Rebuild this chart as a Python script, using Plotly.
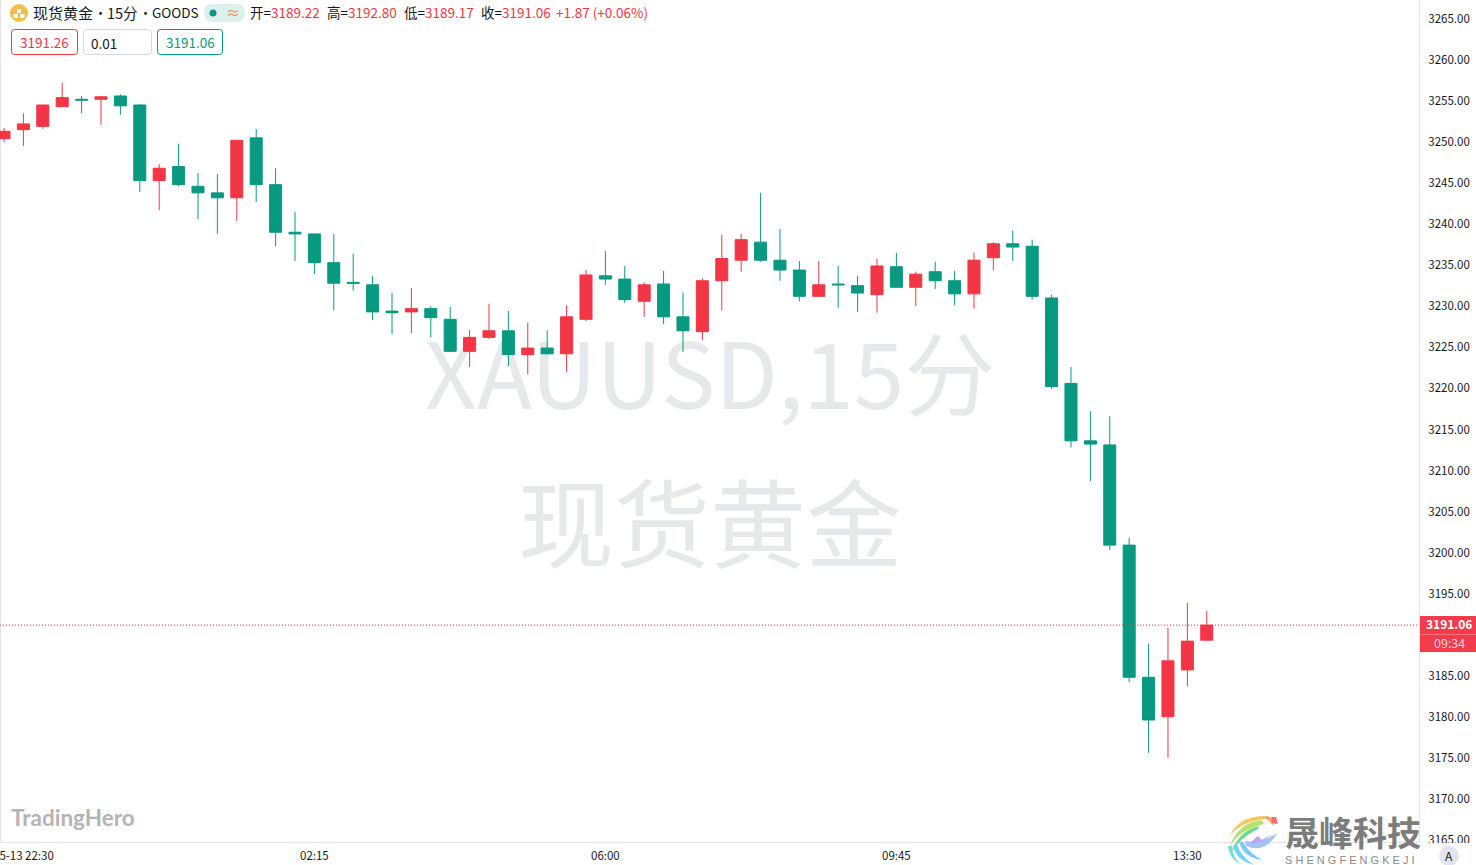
import plotly.graph_objects as go

open_ = [3250.3,3251.4,3251.8,3254.2,3255.1,3255.1,3255.5,3254.4,3245.2,3246.9,3244.5,3243.7,3243.1,3250.4,3244.7,3238.9,
         3238.7,3235.2,3232.8,3232.5,3229.3,3229.2,3229.6,3228.3,3224.4,3226.1,3226.9,3224.0,3224.8,3224.1,3228.3,3233.6,
         3233.2,3230.5,3232.6,3228.6,3226.8,3233.0,3235.5,3237.7,3235.5,3234.3,3231.1,3232.6,3232.4,3231.3,3234.7,3232.2,
         3234.1,3233.0,3231.4,3235.8,3237.5,3237.2,3230.9,3220.5,3213.5,3213.0,3200.8,3184.7,3179.9,3185.6,3189.22]
high = [3251.6,3253.4,3254.4,3257.1,3255.5,3255.5,3255.7,3254.5,3247.2,3249.7,3246.1,3246.0,3250.1,3251.5,3246.7,3241.4,
        3238.7,3238.7,3236.3,3233.6,3231.5,3232.1,3229.9,3229.8,3227.0,3230.2,3229.3,3227.9,3227.0,3230.0,3234.3,3236.6,
        3234.8,3232.8,3234.2,3231.6,3233.3,3238.6,3238.7,3243.7,3239.3,3235.4,3235.4,3234.8,3233.6,3235.7,3236.4,3234.1,
        3235.3,3234.2,3236.4,3237.7,3239.1,3238.0,3231.3,3222.5,3217.1,3216.5,3201.7,3188.8,3190.7,3193.8,3192.80]
low = [3249.9,3249.4,3251.5,3254.2,3253.4,3252.0,3253.2,3243.8,3241.6,3244.5,3240.5,3238.7,3240.3,3242.6,3237.2,3235.4,
       3233.8,3229.4,3231.8,3228.2,3226.5,3226.6,3226.1,3224.3,3222.5,3225.9,3222.6,3221.6,3224.0,3221.9,3228.1,3232.5,
       3230.3,3228.6,3227.7,3224.3,3225.8,3229.4,3234.1,3235.3,3233.0,3230.5,3231.1,3229.7,3229.2,3229.1,3232.1,3229.9,
       3232.0,3230.0,3229.6,3234.3,3235.4,3230.7,3219.8,3212.7,3208.6,3200.2,3184.1,3175.5,3174.9,3183.6,3189.17]
close = [3251.2,3252.1,3254.4,3255.3,3255.0,3255.4,3254.3,3245.2,3246.7,3244.7,3243.7,3243.1,3250.1,3244.7,3238.9,3238.7,
         3235.2,3232.7,3232.7,3229.2,3229.1,3229.6,3228.5,3224.4,3226.1,3226.9,3224.0,3224.8,3224.1,3228.6,3233.7,3233.2,
         3230.7,3232.5,3228.6,3226.9,3233.0,3235.7,3238.0,3235.5,3234.3,3231.1,3232.5,3232.5,3231.5,3234.8,3232.2,3233.8,
         3233.0,3231.4,3235.5,3237.5,3237.1,3231.1,3220.1,3213.5,3213.1,3200.8,3184.7,3179.5,3186.7,3189.1,3191.06]
bar_index = list(range(len(open_)))
time_ticks = [1, 16, 31, 46, 61]
time_labels = ["05-13 22:30", "02:15", "06:00", "09:45", "13:30"]
price_ticks = [3165,3170,3175,3180,3185,3190,3195,3200,3205,3210,3215,3220,3225,3230,3235,3240,3245,3250,3255,3260,3265]
last_price = 3191.06

UP, DOWN, AXIS, TXT = "#F23645", "#089981", "#E0E3EB", "#131722"
FONT = "Noto Sans CJK SC, sans-serif"
W, H, PW, PH = 1476, 865, 1419, 842

def px(x): return x / PW
def py(y): return 1 - y / PH

fig = go.Figure(go.Candlestick(
    x=bar_index, open=open_, high=high, low=low, close=close, whiskerwidth=0,
    increasing=dict(line=dict(color=UP, width=1), fillcolor=UP),
    decreasing=dict(line=dict(color=DOWN, width=1), fillcolor=DOWN),
    showlegend=False, hoverinfo="skip"))

shapes, annos = [], []

def rect(x0, y0, x1, y1, fill="rgba(0,0,0,0)", line=None, lw=1, layer="above"):
    shapes.append(dict(type="rect", xref="paper", yref="paper", x0=px(x0), x1=px(x1), y0=py(y1), y1=py(y0),
                       fillcolor=fill, line=dict(color=line or "rgba(0,0,0,0)", width=lw if line else 0), layer=layer))

def circle(cx, cy, r, fill):
    shapes.append(dict(type="circle", xref="paper", yref="paper", x0=px(cx-r), x1=px(cx+r), y0=py(cy+r), y1=py(cy-r),
                       fillcolor=fill, line=dict(width=0), layer="above"))

def rpath(d_pts, fill):
    d = " ".join(f"{c}{px(x):.5f},{py(y):.5f}" if c in "ML" else f"Q{px(x):.5f},{py(y):.5f} {px(a):.5f},{py(b):.5f}"
                 for c, x, y, *rest in d_pts for a, b in [rest or (0, 0)]) + " Z"
    shapes.append(dict(type="path", xref="paper", yref="paper", path=d, fillcolor=fill, line=dict(width=0), layer="above"))

def text(x, y, s, color=TXT, size=13, anchor="left", family=FONT):
    annos.append(dict(xref="paper", yref="paper", x=px(x), y=py(y), text=s, showarrow=False, xanchor=anchor,
                      yanchor="middle", align=anchor, font=dict(color=color, size=size, family=family),
                      borderpad=0, borderwidth=0))

# frame
rect(0, 0, 1, 842, fill=AXIS, layer="below")
# clip of lowest price label below the time axis
rect(1420, 843, 1476, 865, fill="white")

# watermark, under the candles
shapes.append(dict(type="rect", xref="paper", yref="paper", x0=px(400), x1=px(1020), y0=py(426), y1=py(342),
                   line=dict(width=0), layer="below",
                   label=dict(text="XAUUSD,15分", textposition="middle center",
                              font=dict(size=91, color="#E7E8E9", family=FONT))))
shapes.append(dict(type="rect", xref="paper", yref="paper", x0=px(450), x1=px(970), y0=py(583), y1=py(483),
                   line=dict(width=0), layer="below",
                   label=dict(text="现货黄金", textposition="middle center",
                              font=dict(size=96, color="#E7E8E9", family=FONT))))

# last price line
shapes.append(dict(type="line", xref="paper", yref="y", x0=0, x1=1, y0=last_price, y1=last_price,
                   line=dict(color=UP, width=1, dash="1px 2px"), layer="above"))

# header
circle(19, 13, 9, "#F2BD4C")
rect(17, 9, 21, 13, fill="white"); rect(13.5, 14, 18, 18, fill="white"); rect(20, 14, 24.5, 18, fill="white")
text(33, 12, "现货黄金", size=15)
text(100, 12, "•", size=13, anchor="center")
text(107, 12, "15分", size=14.5)
text(145, 12, "•", size=13, anchor="center")
text(152, 12, "GOODS", size=13.5)
shapes.append(dict(type="path", xref="paper", yref="paper", layer="above", fillcolor="#DDF1EC", line=dict(width=0),
                   path=f"M{px(212):.5f},{py(4):.5f} L{px(236):.5f},{py(4):.5f} Q{px(245):.5f},{py(4):.5f} {px(245):.5f},{py(13):.5f} "
                        f"Q{px(245):.5f},{py(22):.5f} {px(236):.5f},{py(22):.5f} L{px(212):.5f},{py(22):.5f} "
                        f"Q{px(204):.5f},{py(22):.5f} {px(204):.5f},{py(13):.5f} Q{px(204):.5f},{py(4):.5f} {px(212):.5f},{py(4):.5f} Z"))
circle(213, 13, 3.5, DOWN)
text(233, 12, "≈", color="#F2845C", size=14, anchor="center")
for x, s, c in [(250, "开=", TXT), (271, "3189.22", UP), (327, "高=", TXT), (348, "3192.80", UP), (404, "低=", TXT),
                (425, "3189.17", UP), (481, "收=", TXT), (502, "3191.06", UP), (556, "+1.87 (+0.06%)", UP)]:
    text(x, 12.5, s, color=c, size=13.5)

# order boxes
def box(x0, x1, color):
    d = (f"M{px(x0+3):.5f},{py(29.5):.5f} L{px(x1-3):.5f},{py(29.5):.5f} Q{px(x1):.5f},{py(29.5):.5f} {px(x1):.5f},{py(32.5):.5f} "
         f"L{px(x1):.5f},{py(51.5):.5f} Q{px(x1):.5f},{py(54.5):.5f} {px(x1-3):.5f},{py(54.5):.5f} L{px(x0+3):.5f},{py(54.5):.5f} "
         f"Q{px(x0):.5f},{py(54.5):.5f} {px(x0):.5f},{py(51.5):.5f} L{px(x0):.5f},{py(32.5):.5f} Q{px(x0):.5f},{py(29.5):.5f} {px(x0+3):.5f},{py(29.5):.5f} Z")
    shapes.append(dict(type="path", xref="paper", yref="paper", path=d, layer="above", line=dict(color=color, width=1)))
box(11.5, 77.5, UP); box(83.5, 151.5, "#D5D8E2"); box(157.5, 222.5, DOWN)
text(44.5, 42, "3191.26", color=UP, size=13.5, anchor="center")
text(91, 43, "0.01", size=13.5)
text(190, 42, "3191.06", color=DOWN, size=13.5, anchor="center")

# price tag
rect(1420, 616, 1476, 652, fill="#F43A4D")
rect(1420, 634, 1476, 635, fill="#F7737F")
text(1449, 623.5, "<b>3191.06</b>", color="white", size=12, anchor="center")
text(1449, 642, "09:34", color="#FFD3D7", size=12.5, anchor="center")

# brand marks
text(11, 817, "<b>TradingHero</b>", color="#B4B4B4", size=22.5, family="Lato, Inter, sans-serif")
text(1285, 831.5, "<b>晟峰科技</b>", color="#7C7C7C", size=34, family="Noto Sans CJK SC")
text(1285, 860, "S H E N G F E N G K E J I", color="#8A8A8A", size=11, family="Liberation Sans")
for pts, col in [
    ([("M",1264,816),("Q",1236,816,1227,842),("Q",1233,824,1264,819)], "#F5C95C"),
    ([("M",1262,820),("Q",1238,822,1229,848),("Q",1238,830,1264,824)], "#B7DF72"),
    ([("M",1259,826),("Q",1240,830,1231,852),("Q",1240,838,1258,829)], "#6FD98F"),
    ([("M",1268,816),("Q",1274,820,1273,826),("Q",1270,820,1262,817)], "#F7A64F"),
    ([("M",1271,817),("L",1276,817),("L",1278,824),("L",1272,823)], "#F76B6B"),
    ([("M",1228,846),("Q",1229,858,1240,864),("Q",1232,856,1232,846)], "#6FE0D0"),
    ([("M",1233,846),("Q",1236,860,1254,865),("Q",1240,856,1237,844)], "#6FD4F5"),
    ([("M",1239,842),("Q",1244,858,1262,860),("Q",1248,852,1243,842)], "#7BC9F7"),
    ([("M",1245,841),("Q",1262,844,1277,833),("Q",1266,854,1246,846)], "#A3C2F5"),
    ([("M",1258,836),("L",1262,840),("L",1270,835),("Q",1262,845,1250,843)], "#B9A6F2"),
]:
    rpath(pts, col)
circle(1449, 856, 10, "#E3E5EE")
text(1449, 855, "A", size=12, anchor="center")

fig.update_layout(
    width=W, height=H, autosize=False, margin=dict(l=0, r=W-PW, t=0, b=H-PH),
    paper_bgcolor="white", plot_bgcolor="white", boxgap=0.38, boxgroupgap=0,
    shapes=shapes, annotations=annos, showlegend=False, hovermode=False,
    font=dict(family=FONT, size=12, color=TXT),
    xaxis=dict(range=[-0.206, 72.94], rangeslider=dict(visible=False), showgrid=False, zeroline=False,
               tickmode="array", tickvals=time_ticks, ticktext=time_labels, ticks="", tickangle=0,
               ticklabeloverflow="allow", automargin=False,
               showline=True, linecolor=AXIS, linewidth=1, ticklabelstandoff=3, tickfont=dict(size=11.5)),
    yaxis=dict(range=[3164.64, 3267.19], side="right", showgrid=False, zeroline=False, automargin=False,
               tickmode="array", tickvals=price_ticks, tickformat=".2f", ticks="",
               showline=True, linecolor=AXIS, linewidth=1, ticklabelstandoff=6, ticklabelshift=1, tickfont=dict(size=11.5)),
)
fig.write_html("out.html", config=dict(displayModeBar=False, responsive=False),
               post_script="document.body.style.margin='0';document.documentElement.style.overflow='hidden';")
